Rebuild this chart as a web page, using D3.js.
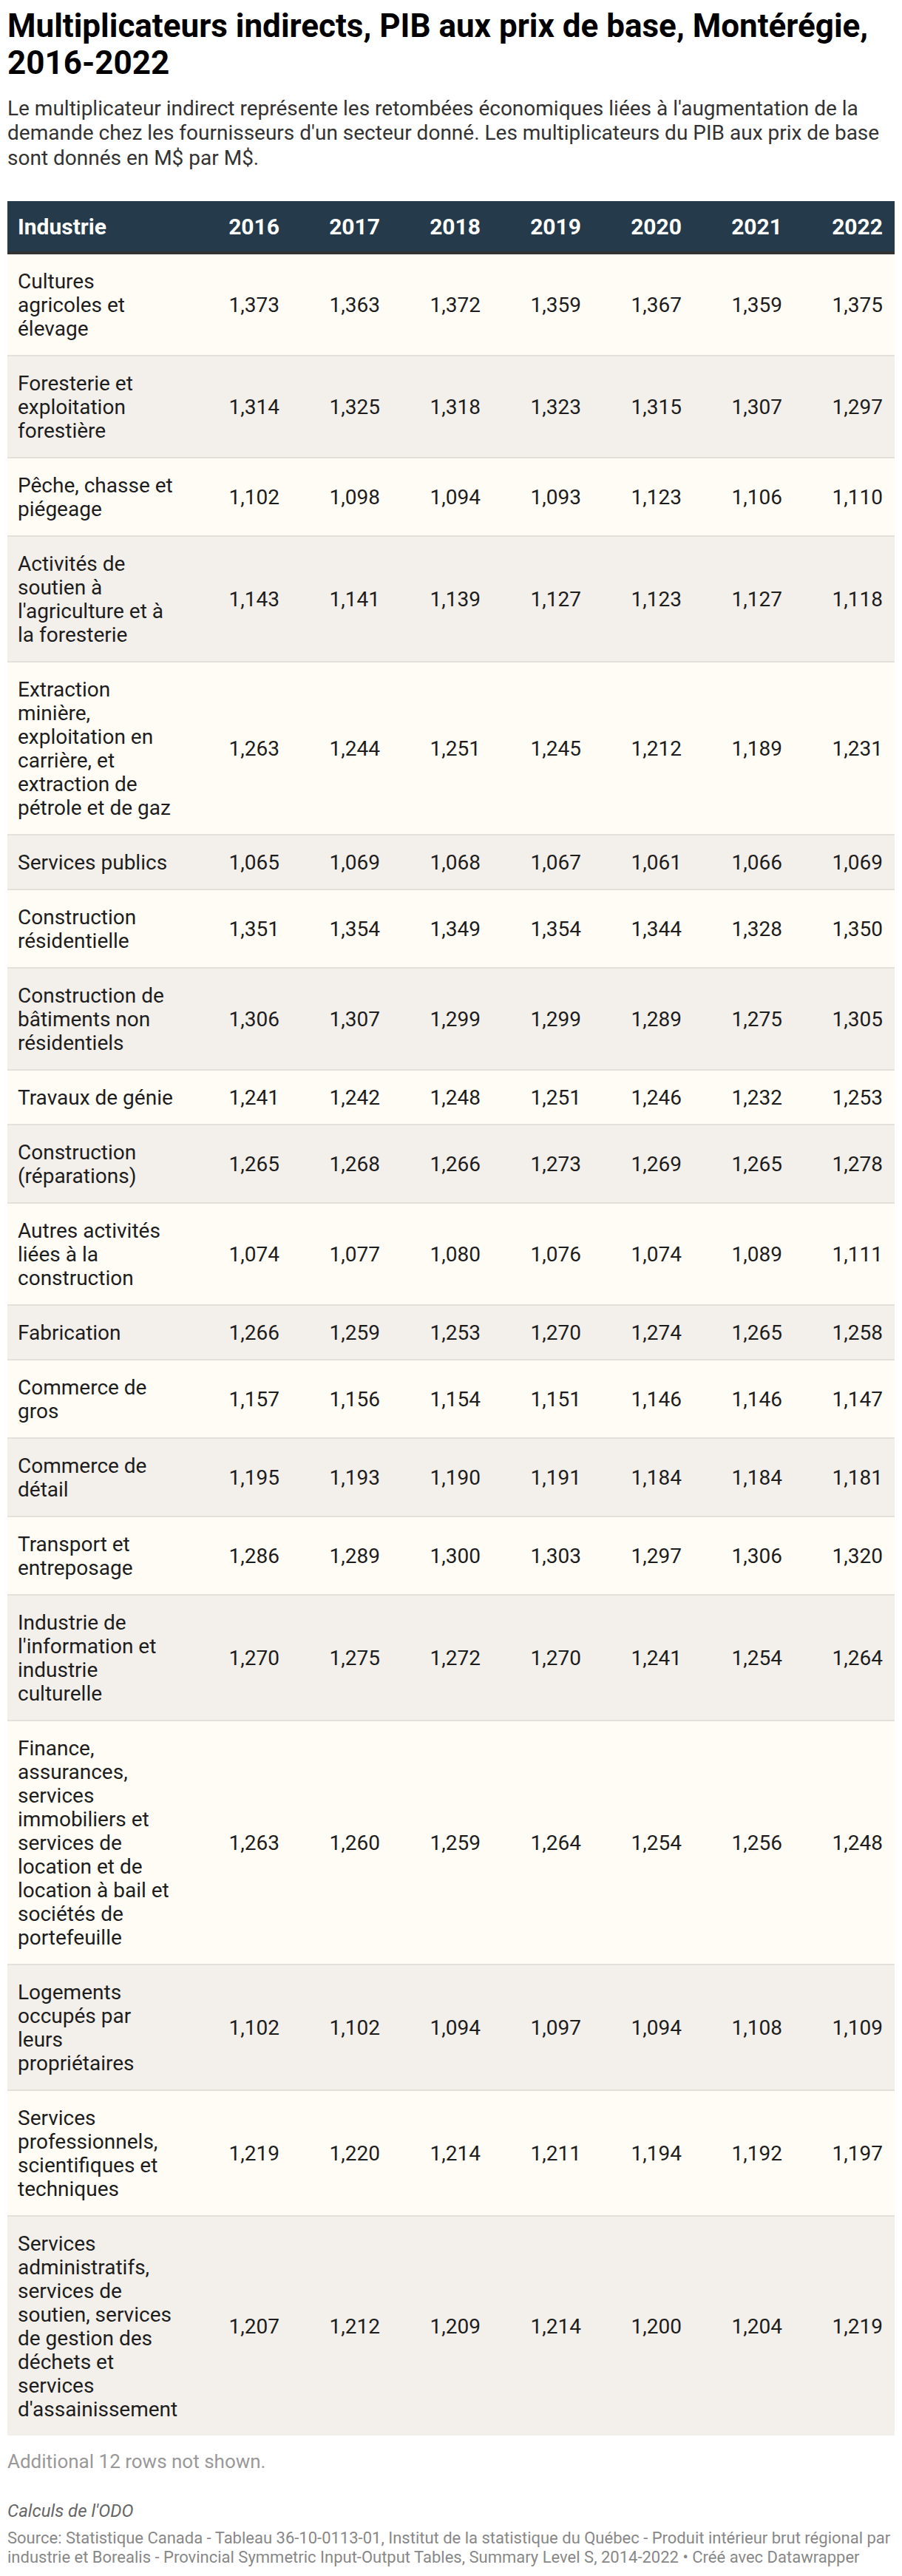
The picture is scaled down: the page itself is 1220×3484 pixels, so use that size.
<!DOCTYPE html>
<html><head><meta charset="utf-8">
<script src="https://cdn.jsdelivr.net/npm/d3@7"></script>
<style>html,body{margin:0;padding:0;background:#fff}svg{display:block}</style>
</head><body><svg id="chart"></svg>
<script>
const titleText = "Multiplicateurs indirects, PIB aux prix de base, Montérégie, 2016-2022";
const descText = "Le multiplicateur indirect représente les retombées économiques liées à l'augmentation de la demande chez les fournisseurs d'un secteur donné. Les multiplicateurs du PIB aux prix de base sont donnés en M$ par M$.";
const headerLabel = "Industrie";
const years = ["2016", "2017", "2018", "2019", "2020", "2021", "2022"];
const industries = [
  "Cultures agricoles et élevage",
  "Foresterie et exploitation forestière",
  "Pêche, chasse et piégeage",
  "Activités de soutien à l'agriculture et à la foresterie",
  "Extraction minière, exploitation en carrière, et extraction de pétrole et de gaz",
  "Services publics",
  "Construction résidentielle",
  "Construction de bâtiments non résidentiels",
  "Travaux de génie",
  "Construction (réparations)",
  "Autres activités liées à la construction",
  "Fabrication",
  "Commerce de gros",
  "Commerce de détail",
  "Transport et entreposage",
  "Industrie de l'information et industrie culturelle",
  "Finance, assurances, services immobiliers et services de location et de location à bail et sociétés de portefeuille",
  "Logements occupés par leurs propriétaires",
  "Services professionnels, scientifiques et techniques",
  "Services administratifs, services de soutien, services de gestion des déchets et services d'assainissement"
];
const v2016 = [1.373,1.314,1.102,1.143,1.263,1.065,1.351,1.306,1.241,1.265,1.074,1.266,1.157,1.195,1.286,1.270,1.263,1.102,1.219,1.207];
const v2017 = [1.363,1.325,1.098,1.141,1.244,1.069,1.354,1.307,1.242,1.268,1.077,1.259,1.156,1.193,1.289,1.275,1.260,1.102,1.220,1.212];
const v2018 = [1.372,1.318,1.094,1.139,1.251,1.068,1.349,1.299,1.248,1.266,1.080,1.253,1.154,1.190,1.300,1.272,1.259,1.094,1.214,1.209];
const v2019 = [1.359,1.323,1.093,1.127,1.245,1.067,1.354,1.299,1.251,1.273,1.076,1.270,1.151,1.191,1.303,1.270,1.264,1.097,1.211,1.214];
const v2020 = [1.367,1.315,1.123,1.123,1.212,1.061,1.344,1.289,1.246,1.269,1.074,1.274,1.146,1.184,1.297,1.241,1.254,1.094,1.194,1.200];
const v2021 = [1.359,1.307,1.106,1.127,1.189,1.066,1.328,1.275,1.232,1.265,1.089,1.265,1.146,1.184,1.306,1.254,1.256,1.108,1.192,1.204];
const v2022 = [1.375,1.297,1.110,1.118,1.231,1.069,1.350,1.305,1.253,1.278,1.111,1.258,1.147,1.181,1.320,1.264,1.248,1.109,1.197,1.219];
const seriesByYear = [v2016, v2017, v2018, v2019, v2020, v2021, v2022];
const moreRowsNote = "Additional 12 rows not shown.";
const notesText = "Calculs de l'ODO";
const sourceText = "Source: Statistique Canada - Tableau 36-10-0113-01, Institut de la statistique du Québec - Produit intérieur brut régional par industrie et Borealis - Provincial Symmetric Input-Output Tables, Summary Level S, 2014-2022 • Créé avec Datawrapper";

const W = 1220, H = 3484;
const FONT = "Roboto, 'Noto Sans', sans-serif";
const svg = d3.select("#chart").attr("width", W).attr("height", H).attr("viewBox", `0 0 ${W} ${H}`);
svg.append("rect").attr("width", W).attr("height", H).attr("fill", "#fff");

const ctx = document.createElement("canvas").getContext("2d");
function measure(s, font) { ctx.font = font; return ctx.measureText(s).width; }
function wrap(str, font, maxW) {
  const words = str.split(" "); const lines = []; let cur = "";
  words.forEach(w => {
    const t = cur ? cur + " " + w : w;
    if (cur && measure(t, font) > maxW) { lines.push(cur); cur = w; } else cur = t;
  });
  if (cur) lines.push(cur);
  return lines;
}
function drawLines(g, lines, x, y0, lh, attrs) {
  const t = g.append("text").attr("x", x).attr("y", y0);
  Object.entries(attrs).forEach(([k, v]) => t.attr(k, v));
  t.selectAll("tspan").data(lines).join("tspan").attr("x", x).attr("y", (d, i) => y0 + i * lh).text(d => d);
  return t;
}

const L = 10, TW = 1200;
// title
const titleFont = `700 44px ${FONT}`;
drawLines(svg, wrap(titleText, titleFont, TW), 10, 50, 50, {"font-family": FONT, "font-weight": 700, "font-size": 44, fill: "#000"});
const descFont = `400 28px ${FONT}`;
drawLines(svg, wrap(descText, descFont, TW), 10, 155.5, 33.6, {"font-family": FONT, "font-size": 28, fill: "#333"});

// table
const headTop = 272, headH = 68, headBorder = 4;
const firstColW = 248;
const x = d3.scaleBand().domain(years).range([L + firstColW, L + TW]);
const padR = 16, padL = 14;
const cellFont = `400 28px ${FONT}`;
const lineH = 32, padV = 20, rowBorder = 2;
const fmt = d3.formatLocale({decimal: ",", thousands: " ", grouping: [3], currency: ["", " $"]}).format(".3f");

svg.append("rect").attr("x", L).attr("y", headTop).attr("width", TW).attr("height", headH).attr("fill", "#253b4c");
svg.append("rect").attr("x", L).attr("y", headTop + headH).attr("width", TW).attr("height", headBorder).attr("fill", "#333");
const hg = svg.append("g").attr("font-family", FONT).attr("font-weight", 700).attr("font-size", 30).attr("fill", "#fff");
hg.append("text").attr("x", L + padL).attr("y", 316.5).text(headerLabel);
hg.selectAll("text.yr").data(years).join("text").attr("class", "yr")
  .attr("x", d => x(d) + x.bandwidth() - padR).attr("y", 316.5).attr("text-anchor", "end").text(d => d);

const rows = industries.map((name, i) => ({name, i, lines: wrap(name, cellFont, firstColW - 2 * 16)}));
let yCur = headTop + headH + headBorder;
rows.forEach((r, i) => {
  r.top = yCur;
  r.h = r.lines.length * lineH + 2 * padV;
  yCur += r.h + (i < rows.length - 1 ? rowBorder : 0);
});
const tableBottom = yCur;
const rg = svg.append("g").attr("font-family", FONT).attr("font-size", 28).attr("fill", "#1d1d1d");
rows.forEach((r, i) => {
  const g = rg.append("g");
  g.append("rect").attr("x", L).attr("y", r.top).attr("width", TW).attr("height", r.h + (i < rows.length - 1 ? rowBorder : 0))
    .attr("fill", i % 2 === 0 ? "#fffcf5" : "#f3efea");
  if (i < rows.length - 1) g.append("rect").attr("x", L).attr("y", r.top + r.h).attr("width", TW).attr("height", rowBorder).attr("fill", "#e4e0da");
  drawLines(g, r.lines, L + padL, r.top + padV + 25.6, lineH, {});
  const cy = r.top + r.h / 2 + 10;
  g.selectAll("text.v").data(years).join("text").attr("class", "v")
    .attr("x", d => x(d) + x.bandwidth() - padR).attr("y", cy).attr("text-anchor", "end")
    .text((d, j) => fmt(seriesByYear[j][i]));
});

// footer
svg.append("text").attr("x", 10).attr("y", tableBottom + 44).attr("font-family", FONT).attr("font-size", 26).attr("fill", "#999").text(moreRowsNote);
svg.append("text").attr("x", 10).attr("y", 3404).attr("font-family", FONT).attr("font-size", 24).attr("font-style", "italic").attr("fill", "#666").text(notesText);
const srcFont = `400 22px ${FONT}`;
drawLines(svg, wrap(sourceText, srcFont, TW), 10, 3440, 26, {"font-family": FONT, "font-size": 22, fill: "#888"});
</script></body></html>
